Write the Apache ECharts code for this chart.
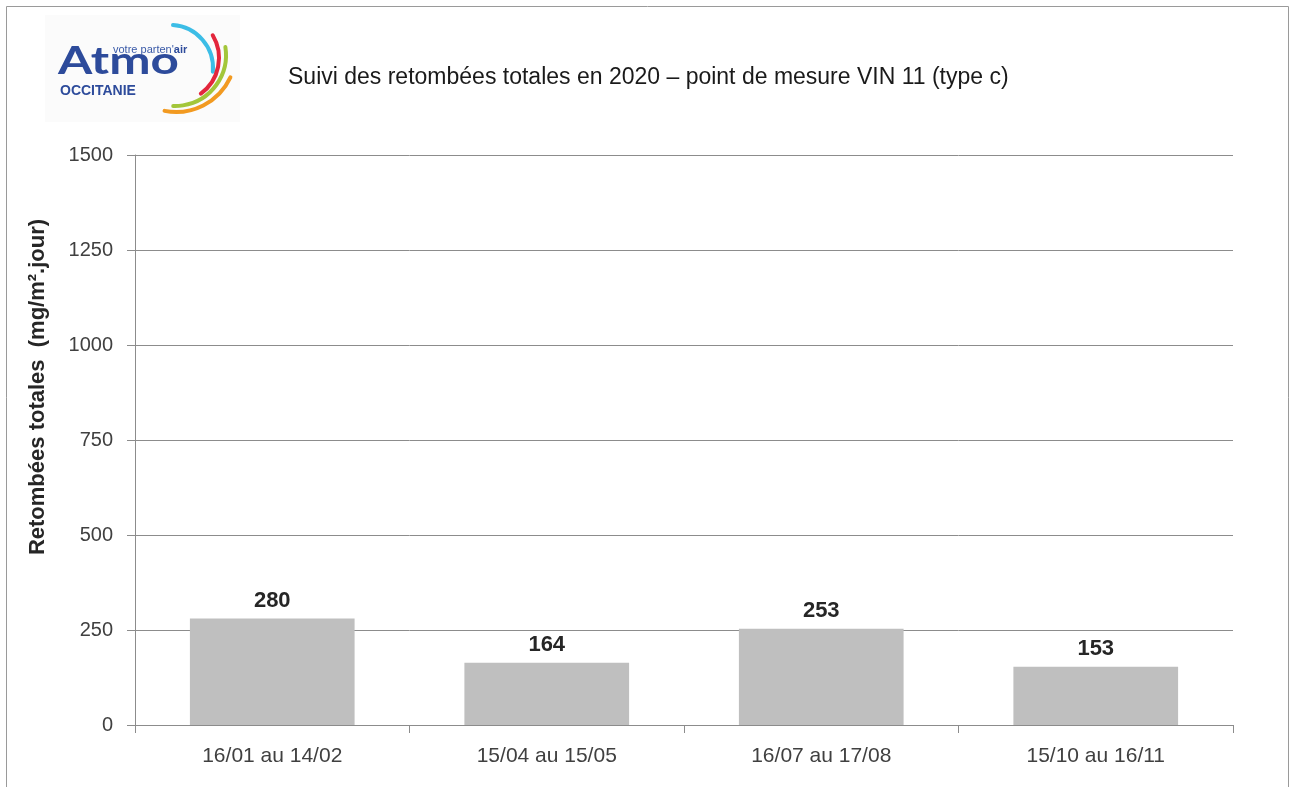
<!DOCTYPE html>
<html>
<head>
<meta charset="utf-8">
<script src="https://cdn.jsdelivr.net/npm/echarts@6/dist/echarts.min.js"></script>
<style>
  html, body { margin: 0; padding: 0; background: #fff; }
  #chart { width: 1290px; height: 787px; }
</style>
</head>
<body>
<div id="chart"></div>
<script>
// periods of measurement (x axis)
const periods = ['16/01 au 14/02', '15/04 au 15/05', '16/07 au 17/08', '15/10 au 16/11']
// total deposits, mg/m².jour
const retombees = [280, 164, 253, 153]
// y axis scale
const yMin = 0
const yMax = 1500
const yStep = 250

const chart = echarts.init(document.getElementById('chart'), null, { renderer: 'canvas' })
const font = 'Liberation Sans, Arial, sans-serif'

// logo arcs: [cx, cy, r, startDeg, endDeg, color]
const logoArcs = [
  [170, 68, 43, -86, 5, '#3cbde6'],
  [175, 58, 44, -31, 54, '#e3263c'],
  [175, 55, 51, -9, 92, '#a3c63a'],
  [176, 52, 60, 25, 101, '#f29a21']
]
const rad = d => d * Math.PI / 180

chart.setOption({
  animation: false,
  title: {
    text: 'Suivi des retombées totales en 2020 – point de mesure VIN 11 (type c)',
    left: 283, top: 61,
    textStyle: { fontFamily: font, fontSize: 23, fontWeight: 'normal', color: '#1a1a1a' }
  },
  grid: { left: 135, top: 155, right: 57, bottom: 62 },
  xAxis: {
    type: 'category',
    data: periods,
    axisLine: { lineStyle: { color: '#8c8c8c', width: 1 } },
    axisTick: { show: true, length: 8, alignWithLabel: false, lineStyle: { color: '#8c8c8c' } },
    axisLabel: { margin: 21, fontFamily: font, fontSize: 21, color: '#404040' }
  },
  yAxis: {
    type: 'value',
    min: yMin, max: yMax, interval: yStep,
    axisLine: { show: true, lineStyle: { color: '#8c8c8c', width: 1 } },
    axisTick: { show: true, length: 8, lineStyle: { color: '#8c8c8c' } },
    splitLine: { lineStyle: { color: '#8c8c8c', width: 1 } },
    axisLabel: { margin: 22, fontFamily: font, fontSize: 20, color: '#404040', formatter: v => String(v) }
  },
  series: [{
    type: 'bar',
    data: retombees,
    barWidth: '60%',
    itemStyle: { color: '#bfbfbf' },
    label: {
      show: true, position: 'top', distance: 7,
      fontFamily: font, fontSize: 22, fontWeight: 'bold', color: '#262626'
    }
  }],
  graphic: [
    // frame
    { type: 'rect', shape: { x: 6.5, y: 6.5, width: 1282, height: 800 },
      style: { fill: null, stroke: '#9a9a9a', lineWidth: 1 }, silent: true },
    // y axis name
    { type: 'text', x: 38, y: 387, rotation: Math.PI / 2,
      style: { text: 'Retombées totales  (mg/m².jour)', fontFamily: font, fontSize: 22,
        fontWeight: 'bold', fill: '#262626', align: 'center', verticalAlign: 'middle' } },
    // logo
    { type: 'rect', shape: { x: 45, y: 15, width: 195, height: 107 },
      style: { fill: '#fbfbfb' }, silent: true },
    { type: 'text', x: 58, y: 81, scaleX: 1.3,
      style: { text: 'Atmo', fontFamily: 'Lato, Roboto, sans-serif', fontSize: 38, fontWeight: 'bold',
        fill: '#2d4b9b', verticalAlign: 'bottom' } },
    { type: 'text', x: 113, y: 50,
      style: {
        text: "{a|votre parten'}{b|air}",
        verticalAlign: 'middle',
        rich: {
          a: { fontFamily: font, fontSize: 11, fill: '#3a5aa8', color: '#3a5aa8' },
          b: { fontFamily: font, fontSize: 11, fontWeight: 'bold', fill: '#2d4b9b', color: '#2d4b9b' }
        }
      } },
    { type: 'text', x: 60, y: 91,
      style: { text: 'OCCITANIE', fontFamily: font, fontSize: 14, fontWeight: 'bold', fill: '#2d4b9b', verticalAlign: 'middle' } }
  ].concat(logoArcs.map(a => ({
    type: 'arc',
    shape: { cx: a[0], cy: a[1], r: a[2], startAngle: rad(a[3]), endAngle: rad(a[4]), clockwise: true },
    style: { stroke: a[5], lineWidth: 4, fill: null, lineCap: 'round' },
    silent: true
  })))
})

window.addEventListener('resize', () => chart.resize())
</script>
</body>
</html>
